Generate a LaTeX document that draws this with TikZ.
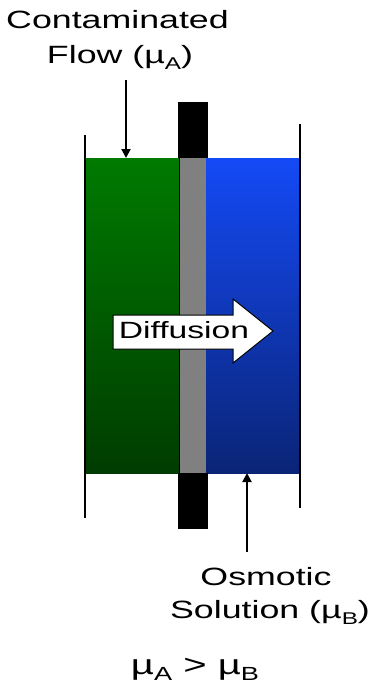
\documentclass[tikz,border=0pt]{standalone}
\usepackage{fontspec}
\setmainfont{Liberation Sans}
\usetikzlibrary{arrows.meta}
\definecolor{gtop}{RGB}{0,122,0}
\definecolor{gbot}{RGB}{0,60,0}
\definecolor{btop}{RGB}{20,74,246}
\definecolor{bbot}{RGB}{10,36,118}
\definecolor{memb}{RGB}{128,128,128}
\newcommand{\wide}[1]{\scalebox{1.43}[1]{#1}}
\newcommand{\sbA}[1]{\raisebox{-6pt}{\fontsize{17}{17}\selectfont #1}}
\newcommand{\sbB}[1]{\raisebox{-6pt}{\fontsize{19}{19}\selectfont #1}}
\begin{document}
\begin{tikzpicture}[x=1pt,y=-1pt,
  lbl/.style={inner sep=0pt,outer sep=0pt,anchor=base,font=\fontsize{25}{25}\selectfont},
  wall/.style={line width=2pt,black},
  pointer/.style={line width=2pt,-{Triangle[length=9pt,width=9pt]}}]
\useasboundingbox (0,0) rectangle (373,689);
% fluids
\shade[top color=gtop,bottom color=gbot] (86,158) rectangle (179,473);
\shade[top color=btop,bottom color=bbot] (205,158) rectangle (300,473);
% membrane
\fill[memb] (179,158) rectangle (206,473);
\draw[line width=1.2pt] (179.5,158) -- (179.5,473);
\fill[black] (178,102) rectangle (208,158);
\fill[black] (178,473) rectangle (208,529);
% walls
\draw[wall] (85,135) -- (85,518);
\draw[wall] (300,124) -- (300,508);
% diffusion arrow
\draw[fill=white,line width=1pt] (113,315) -- (233,315) -- (233,299) -- (273,331) -- (233,363) -- (233,349) -- (113,349) -- cycle;
\node[lbl,font=\fontsize{23.5}{23.5}\selectfont] (diff) at (184,338) {\wide{Diffusion}};
% top label
\node[lbl] (contam) at (117.5,28) {\wide{Contaminated}};
\node[lbl] (flow) at (120,63) {\wide{Flow (µ\sbA{A})}};
\coordinate (pa) at (126,80);
\coordinate (pb) at (126,158);
\draw[pointer] (pa) -- (pb);
% bottom label
\node[lbl] (osm) at (266,585) {\wide{Osmotic}};
\node[lbl] (sol) at (270,618) {\wide{Solution (µ\sbA{B})}};
\coordinate (qa) at (247,552);
\coordinate (qb) at (247,473);
\draw[pointer] (qa) -- (qb);
% relation
\node[lbl,font=\fontsize{28}{28}\selectfont] (rel) at (195,674) {\wide{µ\sbB{A} > µ\sbB{B}}};
\end{tikzpicture}
\end{document}
